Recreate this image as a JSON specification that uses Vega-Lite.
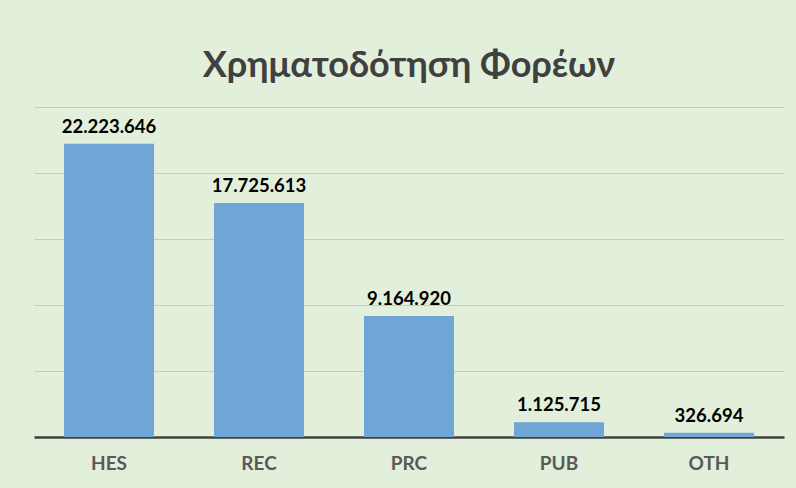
{
  "$schema": "https://vega.github.io/schema/vega-lite/v6.json",
  "width": 750,
  "height": 330,
  "autosize": "none",
  "padding": {"left": 34, "top": 107, "right": 12, "bottom": 51},
  "background": "#e2efda",
  "config": {
    "view": {"stroke": null},
    "font": "Lato",
    "locale": {"number": {"decimal": ",", "thousands": ".", "grouping": [3], "currency": ["", " €"]}}
  },
  "title": {
    "text": "Χρηματοδότηση Φορέων",
    "fontSize": 36,
    "fontWeight": "bold",
    "color": "#404040",
    "font": "Lato",
    "anchor": "middle",
    "offset": 22
  },
  "data": {
    "values": [
      {"category": "HES", "value": 22223646},
      {"category": "REC", "value": 17725613},
      {"category": "PRC", "value": 9164920},
      {"category": "PUB", "value": 1125715},
      {"category": "OTH", "value": 326694}
    ]
  },
  "encoding": {
    "x": {
      "field": "category",
      "type": "nominal",
      "sort": null,
      "scale": {"paddingInner": 0.4, "paddingOuter": 0.2},
      "axis": {
        "title": null,
        "labelAngle": 0,
        "ticks": false,
        "labelFontSize": 19,
        "labelFontWeight": "bold",
        "labelColor": "#595959",
        "labelPadding": 17,
        "domainColor": "#404040",
        "domainWidth": 2.5,
        "grid": false
      }
    },
    "y": {
      "field": "value",
      "type": "quantitative",
      "scale": {"domain": [0, 25000000], "nice": false},
      "axis": {
        "title": null,
        "labels": false,
        "ticks": false,
        "domain": false,
        "values": [5000000, 10000000, 15000000, 20000000, 25000000],
        "gridColor": "#c5cdbd",
        "gridWidth": 1.2
      }
    }
  },
  "layer": [
    {"mark": {"type": "bar", "color": "#6fa6d6"}},
    {
      "mark": {"type": "text", "baseline": "bottom", "dy": -7, "fontSize": 18.5, "fontWeight": "bold", "color": "#000000"},
      "encoding": {"text": {"field": "value", "type": "quantitative", "format": ",d"}}
    }
  ]
}
